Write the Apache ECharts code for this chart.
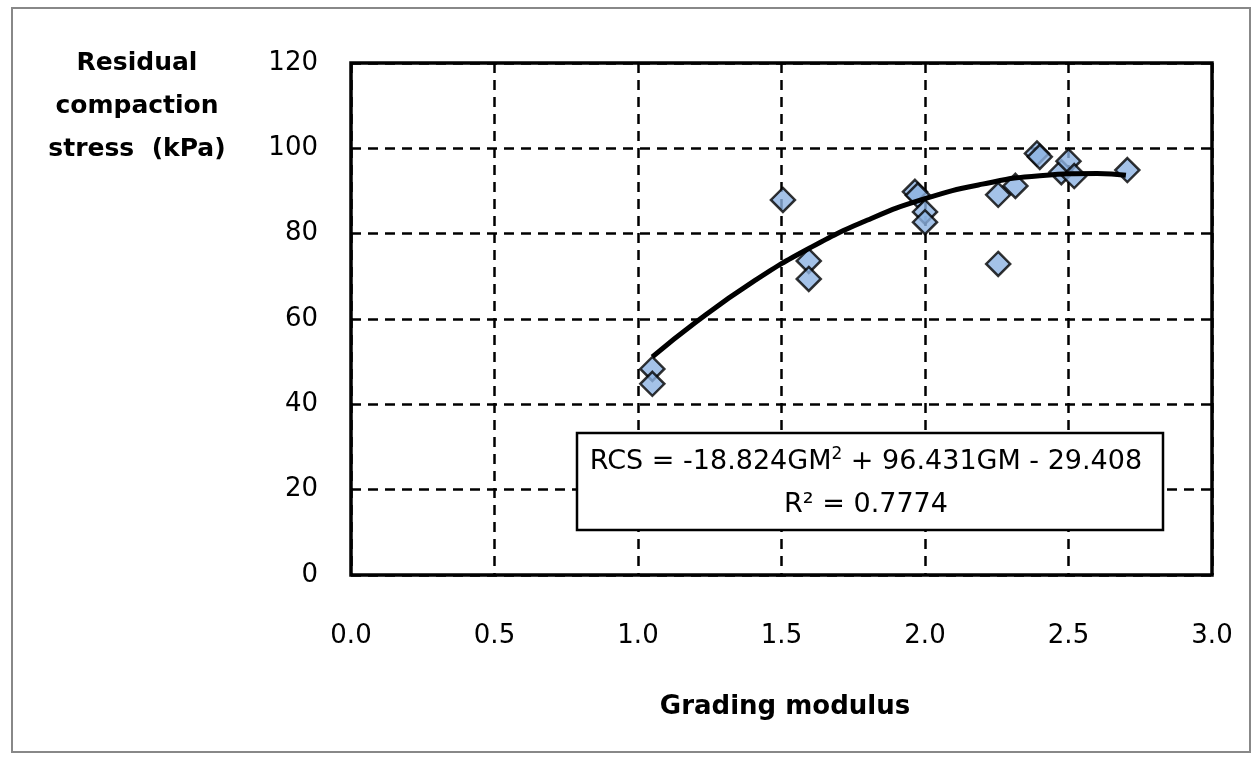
<!DOCTYPE html>
<html>
<head>
  <meta charset="UTF-8">
  <title>rcs-grading</title>
  <style>
    body { margin: 0; background: #fff; }
    #main { width: 1260px; height: 760px; }
  </style>
  <script src="https://cdn.jsdelivr.net/npm/echarts@6/dist/echarts.min.js"></script>
</head>
<body>
<div id="main"></div>
<script>
  // measured points (grading modulus, residual compaction stress)
  const gradingModulus = [1.05, 1.05, 1.505, 1.595, 1.595, 1.965, 1.975, 2.0, 2.0, 2.255, 2.255, 2.315, 2.39, 2.40, 2.475, 2.50, 2.52, 2.705];
  const stressKPa      = [48.3, 44.8, 87.9, 73.6, 69.4, 89.8, 89.0, 85.1, 82.7, 89.1, 72.9, 91.2, 98.8, 98.0, 94.4, 97.0, 93.5, 94.9];
  // trend curve
  const trendX = [1.05, 1.2, 1.4, 1.6, 1.8, 2.0, 2.2, 2.4, 2.6, 2.7];
  const trendY = [51.1, 59.2, 68.7, 76.7, 83.2, 88.2, 91.6, 93.6, 94.1, 93.7];

  const font = '"DejaVu Sans", sans-serif';
  const chart = echarts.init(document.getElementById('main'));

  const dashed = { show: true, lineStyle: { color: '#000', width: 2.5, type: [10, 7] } };

  chart.setOption({
    animation: false,
    grid: {
      left: 351, right: 48, top: 63, bottom: 185,
      show: true, borderColor: '#000', borderWidth: 3.5, backgroundColor: 'transparent'
    },
    xAxis: {
      type: 'value', min: 0, max: 3, interval: 0.5,
      axisLine: { show: false }, axisTick: { show: false },
      splitLine: dashed,
      axisLabel: { color: '#000', fontFamily: font, fontSize: 26, margin: 48,
        formatter: v => v.toFixed(1) }
    },
    yAxis: {
      type: 'value', min: 0, max: 120, interval: 20,
      axisLine: { show: false }, axisTick: { show: false },
      splitLine: dashed,
      axisLabel: { color: '#000', fontFamily: font, fontSize: 26, margin: 33 }
    },
    series: [
      {
        type: 'scatter',
        data: gradingModulus.map((x, i) => [x, stressKPa[i]]),
        symbol: 'diamond', symbolSize: 24,
        itemStyle: { color: '#8db3e2', borderColor: '#000', borderWidth: 2.5 },
        z: 3
      },
      {
        type: 'line',
        data: trendX.map((x, i) => [x, trendY[i]]),
        smooth: true, showSymbol: false,
        lineStyle: { color: '#000', width: 5 },
        z: 4
      }
    ],
    graphic: [
      { type: 'rect', shape: { x: 12, y: 8, width: 1238, height: 744 },
        style: { fill: 'none', stroke: '#888', lineWidth: 2 }, z: -10 },
      { type: 'text', x: 137, y: 106,
        style: { text: 'Residual\ncompaction\nstress  (kPa)', align: 'center', verticalAlign: 'middle',
          font: 'bold 25px ' + font, lineHeight: 43, fill: '#000' } },
      { type: 'text', x: 785, y: 707,
        style: { text: 'Grading modulus', align: 'center', verticalAlign: 'middle',
          font: 'bold 26px ' + font, fill: '#000' } },
      { type: 'rect', shape: { x: 577, y: 433, width: 586, height: 97 },
        style: { fill: '#fff', stroke: '#000', lineWidth: 2.5 }, z: 100 },
      { type: 'text', x: 866, y: 462, z: 101,
        style: {
          text: '{a|RCS = -18.824GM}{s|2}{a| + 96.431GM - 29.408}',
          align: 'center', verticalAlign: 'middle',
          rich: {
            a: { fontFamily: font, fontSize: 27, fill: '#000' },
            s: { fontFamily: font, fontSize: 17, fill: '#000', padding: [0, 0, 14, 0] }
          }
        } },
      { type: 'text', x: 866, y: 505, z: 101,
        style: { text: 'R\u00b2 = 0.7774', align: 'center', verticalAlign: 'middle',
          font: '27px ' + font, fill: '#000' } }
    ]
  });
</script>
</body>
</html>
